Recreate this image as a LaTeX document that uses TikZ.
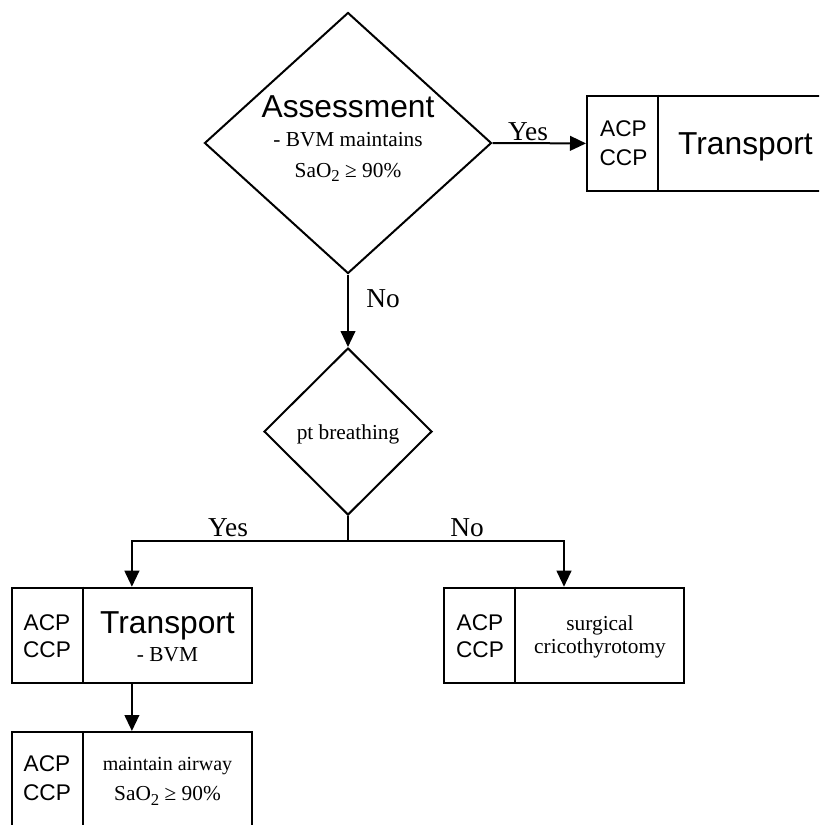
\documentclass[tikz,border=0pt]{standalone}
\usepackage{fontspec}
\setmainfont{Liberation Serif}
\newfontfamily\sansfam{Liberation Sans}
\usetikzlibrary{shapes.geometric,arrows.meta}
\newcommand\subtwo{\raisebox{-0.5ex}{\fontsize{12.5}{14}\selectfont 2}}
\newcommand\satline{SaO\subtwo{} ≥ 90\%}

\begin{document}
\begin{tikzpicture}[x=0.75pt,y=-0.75pt,
  line/.style={line width=1.5pt},
  arr/.style={line, -{Triangle[length=12pt,width=11pt]}},
  decision/.style={draw, line width=1.5pt, diamond, inner sep=0pt},
  stepbox/.style={draw, line width=1.5pt, rectangle, inner sep=0pt,
                  minimum width=180pt, minimum height=71.5pt},
  divider/.style={line width=1.5pt},
  lbl/.style={anchor=base, inner sep=0pt, font=\fontsize{20.5}{24}\selectfont},
  role/.style={anchor=base, inner sep=0pt, font=\sansfam\fontsize{17}{20}\selectfont},
  big/.style={anchor=base, inner sep=0pt, font=\sansfam\fontsize{23.8}{28}\selectfont},
  txt/.style={anchor=base, inner sep=0pt, font=\fontsize{16}{19}\selectfont},
]
\clip (0,0) rectangle (819,825);

% decisions
\node[decision, minimum width=215.25pt, minimum height=195.75pt] (d1) at (348,143) {};
\node[decision, minimum width=126pt, minimum height=125.25pt] (d2) at (348,431.5) {};

% action boxes
\node[stepbox, minimum width=183pt] (b1) at (709,143.4) {};
\node[stepbox] (b2) at (131.9,635.4) {};
\node[stepbox] (b3) at (564,635.4) {};
\node[stepbox, minimum height=72pt] (b4) at (131.9,780) {};

% role column dividers
\foreach \b in {b1,b2,b3,b4}
  \draw[divider] ([xshift=54pt]\b.north west) -- ([xshift=54pt]\b.south west);

% connectors
\draw[arr] (d1.east) -- (b1.west);
\draw[arr] (d1.south) -- (d2.north);
\draw[line] (d2.south) -- ++(0,25) coordinate (split);
\draw[arr] (split) -| (b2.north);
\draw[arr] (split) -| (b3.north);
\draw[arr] (b2.south) -- (b4.north);

% branch labels
\node[lbl] (y1) at (528,140) {Yes};
\node[lbl] (n1) at (383,307.7) {No};
\node[lbl] (y2) at (228,536) {Yes};
\node[lbl] (n2) at (467,536) {No};

% decision texts
\node[big] (d1t) at (348,117) {Assessment};
\node[txt] (d1u) at (348,146.7) {- BVM maintains};
\node[txt] (d1v) at (348,177) {\satline};
\node[txt] (d2t) at (348,439) {pt breathing};

% box 1
\node[role] (b1a) at (623.5,136.7) {ACP};
\node[role] (b1c) at (623.5,165) {CCP};
\node[big] (b1t) at (745.5,154) {Transport};

% box 2
\node[role] (b2a) at (47,630) {ACP};
\node[role] (b2c) at (47,657) {CCP};
\node[big] (b2t) at (167.5,633) {Transport};
\node[txt] (b2u) at (167.5,661.7) {- BVM};

% box 3
\node[role] (b3a) at (480,630) {ACP};
\node[role] (b3c) at (480,657) {CCP};
\node[txt] (b3t) at (600,630) {surgical};
\node[txt] (b3u) at (600,653) {cricothyrotomy};

% box 4
\node[role] (b4a) at (47,771.7) {ACP};
\node[role] (b4c) at (47,800) {CCP};
\node[txt, font=\fontsize{15}{18}\selectfont] (b4t) at (167.5,770) {maintain airway};
\node[txt] (b4u) at (167.5,800.7) {\satline};
\end{tikzpicture}
\end{document}
